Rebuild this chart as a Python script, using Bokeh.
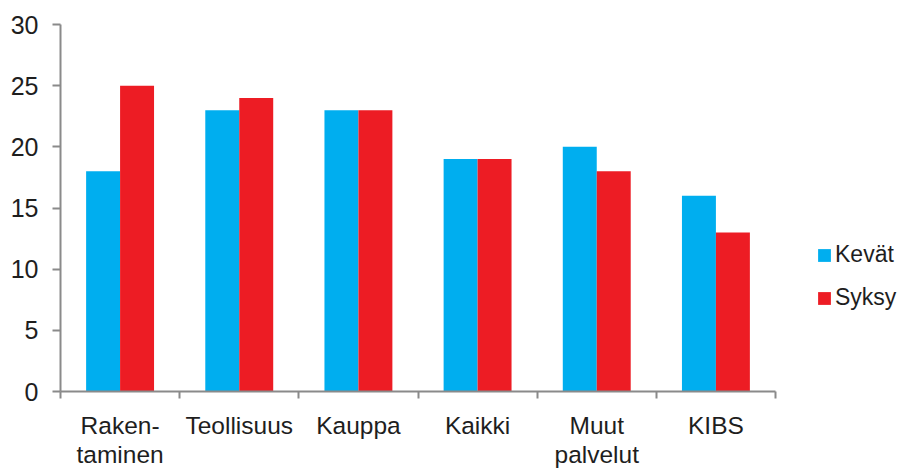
from bokeh.plotting import figure
from bokeh.models import FixedTicker, Legend, LegendItem, ColumnDataSource, Range1d
from bokeh.embed import file_html
from bokeh.resources import INLINE

categories = ["Raken-\ntaminen", "Teollisuus", "Kauppa", "Kaikki", "Muut\npalvelut", "KIBS"]
kevat = [18, 23, 23, 19, 20, 16]
syksy = [25, 24, 23, 19, 18, 13]
y_ticks = [0, 5, 10, 15, 20, 25, 30]

BLUE = "#00AEEF"
RED = "#ED1C24"
AXIS = "#8a8a8a"
FONT = "Liberation Sans"
TXT = "#1e1e1e"
FS = "25px"

n = len(categories)
centers = [i + 0.5 for i in range(n)]
bw = 0.285
axis_px = 715      # pixel length of the category axis
frame_w = 840      # frame extends to the right to hold the legend

p = figure(width=900, height=470, output_backend="svg", toolbar_location=None,
           x_range=Range1d(0, n * frame_w / axis_px), y_range=Range1d(0, 30),
           frame_width=frame_w, frame_height=367,
           min_border_left=60, min_border_top=24, min_border_right=0, min_border_bottom=79)

src_k = ColumnDataSource(dict(x=[c - bw / 2 for c in centers], top=kevat))
src_s = ColumnDataSource(dict(x=[c + bw / 2 for c in centers], top=syksy))
rk = p.vbar(x="x", top="top", width=bw, bottom=0, source=src_k, fill_color=BLUE, line_color=None)
rs = p.vbar(x="x", top="top", width=bw, bottom=0, source=src_s, fill_color=RED, line_color=None)

p.grid.visible = False
p.outline_line_color = None
p.background_fill_color = "white"
p.border_fill_color = "white"

# y axis
ya = p.yaxis[0]
ya.ticker = FixedTicker(ticks=y_ticks)
ya.minor_tick_line_color = None
ya.axis_line_color = AXIS
ya.axis_line_width = 2
ya.major_tick_line_color = AXIS
ya.major_tick_line_width = 2
ya.major_tick_out = 8
ya.major_tick_in = 0
ya.major_label_standoff = 14
ya.major_label_text_font = FONT
ya.major_label_text_font_size = FS
ya.major_label_text_color = TXT

# x axis
xa = p.xaxis[0]
xa.bounds = (0, n)
xa.ticker = FixedTicker(ticks=centers, minor_ticks=list(range(n + 1)))
xa.major_label_overrides = {c: lab for c, lab in zip(centers, categories)}
xa.major_tick_line_color = None
xa.major_tick_out = 0
xa.major_tick_in = 0
xa.minor_tick_line_color = AXIS
xa.minor_tick_line_width = 2
xa.minor_tick_out = 7
xa.minor_tick_in = 0
xa.axis_line_color = AXIS
xa.axis_line_width = 2
xa.major_label_standoff = 13
xa.major_label_text_font = FONT
xa.major_label_text_font_size = "24.5px"
xa.major_label_text_color = TXT
xa.major_label_text_line_height = 1.08
xa.major_label_orientation = "horizontal"

legend = Legend(items=[LegendItem(label="Kevät", renderers=[rk]),
                       LegendItem(label="Syksy", renderers=[rs])],
                location=(756, 80), border_line_color=None, background_fill_alpha=0,
                label_text_font=FONT, label_text_font_size="23px", label_text_color=TXT,
                glyph_width=16, glyph_height=16, spacing=16, padding=0, margin=0,
                label_standoff=3)
p.add_layout(legend, "center")

open("out.html", "w").write(file_html(p, INLINE))
